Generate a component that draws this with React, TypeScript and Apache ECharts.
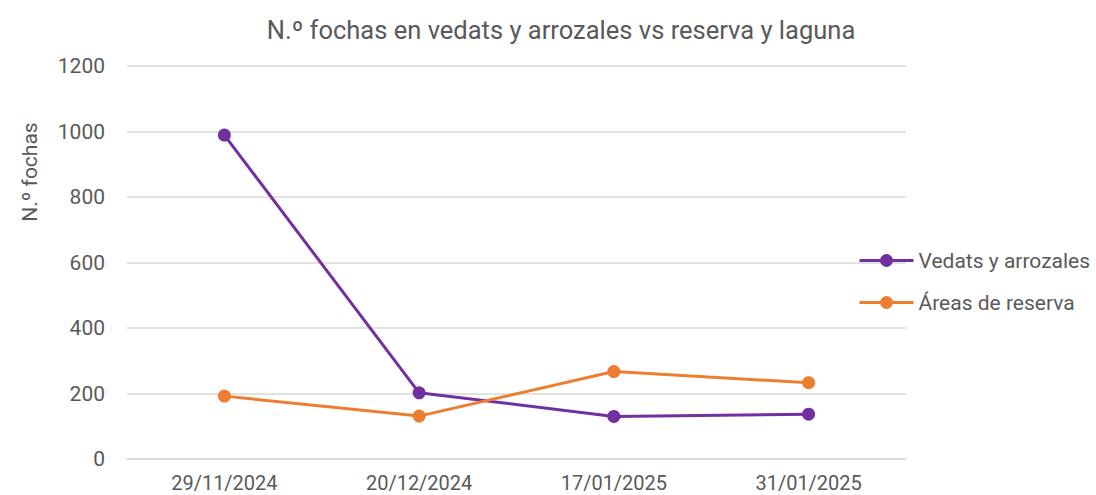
import React, { useEffect, useRef } from "react";
import * as echarts from "echarts";

const categories = ["29/11/2024", "20/12/2024", "17/01/2025", "31/01/2025"];
const vedats = [989, 202, 130, 137];
const reserva = [192, 131, 267, 233];
const seriesNames = ["Vedats y arrozales", "Áreas de reserva"];
const titleText = "N.º fochas en vedats y arrozales vs reserva y laguna";
const yAxisName = "N.º fochas";

const FONT = "Roboto, 'Noto Sans', sans-serif";
const TXT = "#595959";

export default function App() {
  const ref = useRef<HTMLDivElement>(null);
  useEffect(() => {
    if (!ref.current) return;
    const chart = echarts.init(ref.current, undefined, { renderer: "svg" });
    chart.setOption({
      animation: false,
      textStyle: { fontFamily: FONT },
      title: {
        text: titleText,
        left: 556,
        textAlign: "center",
        top: 12,
        textStyle: { fontSize: 25.5, fontWeight: "normal", color: TXT, fontFamily: FONT },
      },
      grid: {
        left: 127,
        right: 190,
        top: 66,
        bottom: 36,
        containLabel: false,
        outerBoundsMode: "none",
      },
      legend: {
        orient: "vertical",
        left: 858,
        top: 250,
        padding: 0,
        itemWidth: 54,
        itemHeight: 16,
        itemGap: 21,
        lineStyle: { width: 3 },
        textStyle: { fontSize: 21, color: TXT, fontFamily: FONT },
        data: seriesNames,
      },
      graphic: [
        {
          type: "text",
          x: 30,
          y: 172,
          rotation: Math.PI / 2,
          style: {
            text: yAxisName,
            fontSize: 21,
            fill: TXT,
            fontFamily: FONT,
            align: "center",
            verticalAlign: "middle",
          },
        },
      ],
      xAxis: {
        type: "category",
        data: categories,
        boundaryGap: true,
        axisLine: { show: true, lineStyle: { color: "#d9d9d9", width: 1.5 } },
        axisTick: { show: false },
        axisLabel: { fontSize: 20, lineHeight: 22, color: TXT, fontFamily: FONT, margin: 13 },
      },
      yAxis: {
        type: "value",
        min: 0,
        max: 1200,
        interval: 200,
        axisLine: { show: false },
        axisTick: { show: false },
        axisLabel: {
          fontSize: 21,
          color: TXT,
          fontFamily: FONT,
          margin: 22,
          formatter: (v: number) => String(v),
        },
        splitLine: { lineStyle: { color: "#d9d9d9", width: 1.5 } },
      },
      series: [
        {
          name: seriesNames[0],
          type: "line",
          data: vedats,
          symbol: "circle",
          symbolSize: 13,
          lineStyle: { width: 3, color: "#7030A0" },
          itemStyle: { color: "#7030A0" },
        },
        {
          name: seriesNames[1],
          type: "line",
          data: reserva,
          symbol: "circle",
          symbolSize: 13,
          lineStyle: { width: 3, color: "#ED7D31" },
          itemStyle: { color: "#ED7D31" },
        },
      ],
    });
    return () => chart.dispose();
  }, []);
  return (
    <div
      ref={ref}
      style={{ position: "fixed", left: 0, top: 0, width: 1096, height: 495, background: "#fff" }}
    />
  );
}
